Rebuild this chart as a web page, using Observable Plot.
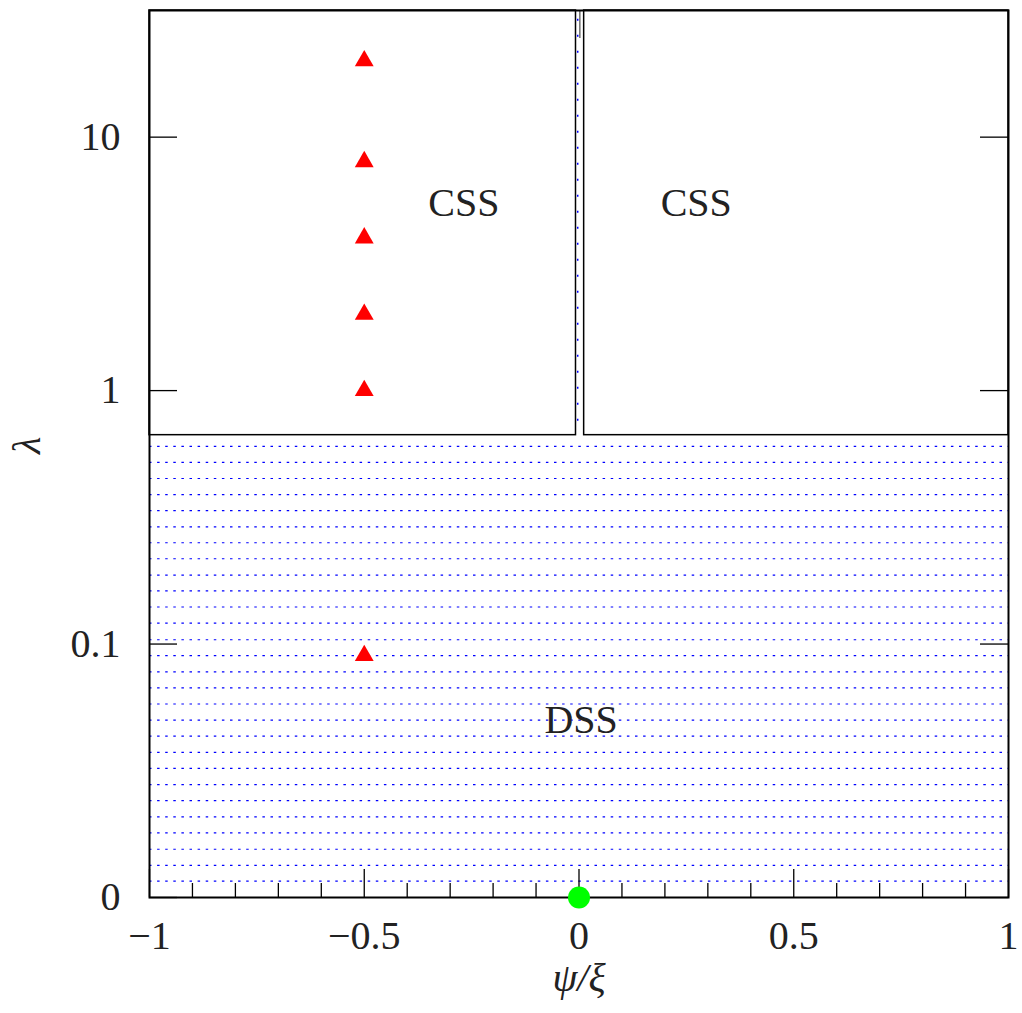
<!DOCTYPE html>
<html>
<head>
<meta charset="utf-8">
<script src="https://cdn.jsdelivr.net/npm/d3@7"></script>
<script src="https://cdn.jsdelivr.net/npm/@observablehq/plot@0.6"></script>
<style>
  html, body { margin: 0; padding: 0; background: #fff; }
</style>
</head>
<body>
<div id="chart"></div>
<script>
// ---- data ----
const LAMBDA_ZERO = 0.01;            // position where λ = 0 is drawn (bottom of log axis)
const xMajorTicks = [-1, -0.5, 0, 0.5, 1];
const xTickLabels = ["−1", "−0.5", "0", "0.5", "1"];
const xMinorTicks = [-0.9, -0.8, -0.7, -0.6, -0.4, -0.3, -0.2, -0.1, 0.1, 0.2, 0.3, 0.4, 0.6, 0.7, 0.8, 0.9];
const yTickValues = [0.01, 0.1, 1, 10];
const yTickLabels = ["0", "0.1", "1", "10"];

// red triangles (ψ/ξ, λ)
const triX = [-0.5, -0.5, -0.5, -0.5, -0.5, -0.5];
const triLambda = [20, 8, 4, 2, 1, 0.09];

// green point
const dotX = [0];
const dotLambda = [0];

// CSS / DSS boundary
const boundaryLambda = 0.667;
const leftCssX = [-1, -0.007];
const rightCssX = [0.012, 1];
const gapDotX = -0.003;
const gapTickX = [0.002];

// dotted hatch rows in DSS region (λ values)
const hatchLambda = [0.603, 0.521, 0.450, 0.389, 0.336, 0.290, 0.251, 0.217, 0.187, 0.162,
  0.140, 0.121, 0.104, 0.0900, 0.0777, 0.0672, 0.0580, 0.0501, 0.0433, 0.0374,
  0.0323, 0.0279, 0.0241, 0.0208, 0.0180, 0.0155, 0.0134, 0.0116];

// region labels
const regionText = ["CSS", "CSS", "DSS"];
const regionX = [-0.268, 0.273, 0.005];
const regionLambda = [5.5, 5.5, 0.05];

// ---- build ----
const yTop = 31.6;
const W = 1022, H = 1013;
const mL = 149, mR = 14, mT = 10, mB = 116;
const innerW = W - mL - mR, innerH = H - mT - mB;
const lam = v => (v === 0 ? LAMBDA_ZERO : v);

const triangles = triX.map((x, i) => ({x, lam: lam(triLambda[i])}));
const dots = dotX.map((x, i) => ({x, lam: lam(dotLambda[i])}));
const hatch = hatchLambda.map(l => ({l}));
const labels = regionText.map((t, i) => ({t, x: regionX[i], lam: regionLambda[i]}));

const chart = Plot.plot({
  width: W, height: H,
  marginLeft: mL, marginRight: mR, marginTop: mT, marginBottom: mB,
  style: {fontFamily: "'Liberation Serif', serif", fontSize: "40px", color: "#222", background: "#fff", overflow: "visible"},
  x: {domain: [-1, 1]},
  y: {type: "log", domain: [LAMBDA_ZERO, yTop]},
  marks: [
    // hatch rows
    Plot.ruleY(hatch, {y: "l", x1: -1, x2: 1, stroke: "#0000ff", strokeWidth: 1.2, strokeDasharray: "2.5,5.6"}),
    // vertical dotted line in the gap
    Plot.ruleX([gapDotX], {x: d => d, y1: boundaryLambda, y2: yTop, stroke: "#0000ff", strokeWidth: 1.5, strokeDasharray: "2,14", strokeDashoffset: -14}),
    // CSS boxes
    Plot.rect([{x1: leftCssX[0], x2: leftCssX[1]}, {x1: rightCssX[0], x2: rightCssX[1]}],
      {x1: "x1", x2: "x2", y1: boundaryLambda, y2: yTop, fill: "none", stroke: "#000", strokeWidth: 1.5}),
    // short line at top of the gap
    Plot.tickX(gapTickX, {x: d => d, insetBottom: innerH - 28, stroke: "#555", strokeWidth: 1.3}),
    // ticks (inward: bottom, left, right)
    Plot.tickX(xMajorTicks, {x: d => d, insetTop: innerH - 28, stroke: "#000", strokeWidth: 1.3}),
    Plot.tickX(xMinorTicks, {x: d => d, insetTop: innerH - 14, stroke: "#000", strokeWidth: 1.3}),
    Plot.tickY(yTickValues, {y: d => d, insetRight: innerW - 28, stroke: "#000", strokeWidth: 1.3}),
    Plot.tickY(yTickValues, {y: d => d, insetLeft: innerW - 28, stroke: "#000", strokeWidth: 1.3}),
    // frame
    Plot.frame({stroke: "#000", strokeWidth: 2}),
    // axes (labels only)
    Plot.axisX({ticks: xMajorTicks, tickSize: 0, tickPadding: 23, label: null, fill: "#222",
      tickFormat: d => xTickLabels[xMajorTicks.indexOf(d)]}),
    Plot.axisY({ticks: yTickValues, tickSize: 0, tickPadding: 29, label: null, fill: "#222",
      tickFormat: d => yTickLabels[yTickValues.indexOf(d)]}),
    // region labels
    Plot.text(labels, {x: "x", y: "lam", text: "t", fontSize: 40, fill: "#222"}),
    // markers
    Plot.dot(triangles, {x: "x", y: "lam", symbol: "triangle", r: 7, fill: "#ff0000", stroke: "none"}),
    Plot.dot(dots, {x: "x", y: "lam", r: 11, fill: "#00ff00", stroke: "none"}),
    // axis titles
    Plot.text(["ψ/ξ"], {frameAnchor: "bottom", dy: 93, text: d => d, fontSize: 40, fontStyle: "italic", fill: "#222"}),
    Plot.text(["λ"], {frameAnchor: "left", dx: -122, text: d => d, fontSize: 40, fontStyle: "italic", rotate: -90, fill: "#222"})
  ]
});
document.getElementById("chart").appendChild(chart);
</script>
</body>
</html>
